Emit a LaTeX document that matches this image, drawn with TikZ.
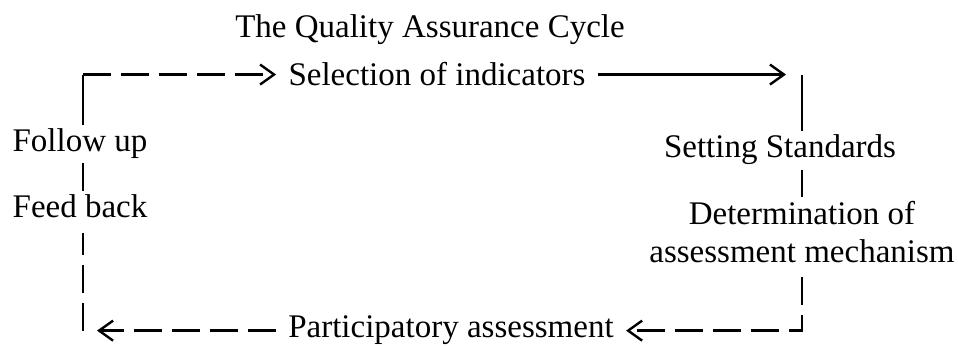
\documentclass[tikz,border=0pt]{standalone}
\usepackage{fontspec}
\setmainfont{Liberation Serif}
\usetikzlibrary{arrows.meta}
\tikzset{lbl/.style = {font=\fontsize{16.5}{19}\selectfont, inner xsep=6pt, inner ysep=2pt},
         flow/.style = {line width=1.2pt},
         loose/.style = {flow, dash pattern=on 14pt off 5pt},
         barb/.style = {-{Straight Barb[length=7pt, width=10pt]}}}

\begin{document}
\begin{tikzpicture}[x=0.5pt, y=-0.5pt]
    \useasboundingbox (0, 0) rectangle (958, 346);
    \node [lbl, anchor=base] (title) at (430, 38) {The Quality Assurance Cycle};

    \node [lbl, anchor=base] (sel) at (437, 86) {Selection of indicators};
    \node [lbl, anchor=base] (set) at (780, 158) {Setting Standards};
    \node [lbl, anchor=north, align=center] (det) at (802, 197) {Determination of\\assessment mechanism};
    \node [lbl, anchor=base] (part) at (451, 338) {Participatory assessment};
    \node [lbl, anchor=base] (fol) at (80, 152) {Follow up};
    \node [lbl, anchor=base] (feed) at (80, 218) {Feed back};

    \coordinate (tl) at (83, 0 |- sel.west);
    \coordinate (tr) at (802, 0 |- sel.east);
    \coordinate (br) at (802, 0 |- part.east);
    \coordinate (bl) at (83, 0 |- part.west);

    % round the top
    \draw [flow] (tl |- fol.north) -- (tl);
    \draw [loose, barb] (tl) -- (sel.west);
    \draw [flow, barb, shorten >=8pt] (sel.east) -- (tr);

    % down the right side
    \draw [flow] (tr) -- (tr |- set.north);
    \draw [flow] (tr |- set.south) -- (tr |- det.north);
    \draw [loose, barb, shorten <=5pt] (tr |- det.south) -- (br) -- (part.east);

    % back up the left side
    \draw [loose, barb, shorten >=7pt] (part.west) -- (bl);
    \draw [loose, shorten >=5pt] (bl) -- (bl |- feed.south);
    \draw [flow] (tl |- fol.south) -- (tl |- feed.north);
\end{tikzpicture}
\end{document}
